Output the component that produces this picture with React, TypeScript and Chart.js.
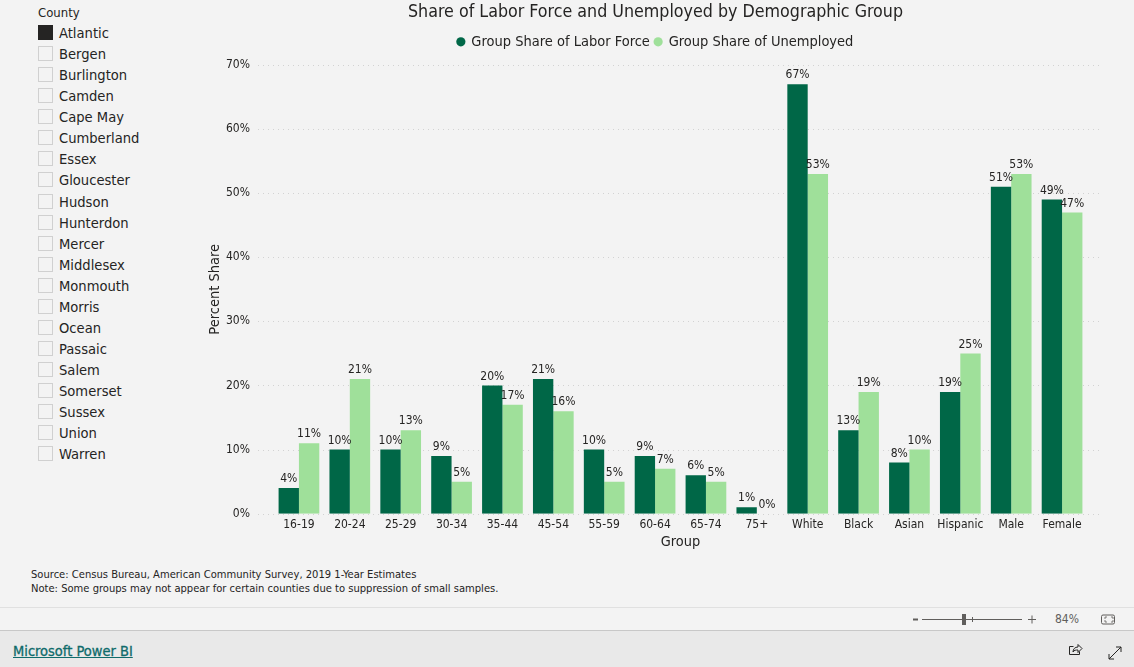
import React, { useEffect, useRef } from "react";
import { Chart, registerables } from "chart.js";

Chart.register(...registerables);

const FONT = '"DejaVu Sans Condensed", "DejaVu Sans", sans-serif';
const INK = "#252423";

const groups = ["16-19", "20-24", "25-29", "30-34", "35-44", "45-54", "55-59", "60-64", "65-74", "75+", "White", "Black", "Asian", "Hispanic", "Male", "Female"];
const laborForce = [4, 10, 10, 9, 20, 21, 10, 9, 6, 1, 67, 13, 8, 19, 51, 49];
const unemployed = [11, 21, 13, 5, 17, 16, 5, 7, 5, 0, 53, 19, 10, 25, 53, 47];
const counties = ["Atlantic", "Bergen", "Burlington", "Camden", "Cape May", "Cumberland", "Essex", "Gloucester", "Hudson", "Hunterdon", "Mercer", "Middlesex", "Monmouth", "Morris", "Ocean", "Passaic", "Salem", "Somerset", "Sussex", "Union", "Warren"];
const yTicks = [0, 10, 20, 30, 40, 50, 60, 70];

const dottedGrid = {
  id: "dottedGrid",
  beforeDatasetsDraw(chart: any) {
    const { ctx, chartArea, scales } = chart;
    ctx.save();
    ctx.strokeStyle = "#d2d2d2";
    ctx.lineWidth = 1;
    ctx.setLineDash([1, 4]);
    yTicks.forEach((t) => {
      const y = Math.round(scales.y.getPixelForValue(t)) + 0.5;
      ctx.beginPath();
      ctx.moveTo(chartArea.left - 15.5, y);
      ctx.lineTo(chartArea.right + 14.5, y);
      ctx.stroke();
    });
    ctx.restore();
  },
};

const barLabels = {
  id: "barLabels",
  afterDatasetsDraw(chart: any) {
    const { ctx } = chart;
    ctx.save();
    ctx.font = `12px ${FONT}`;
    ctx.fillStyle = INK;
    ctx.textAlign = "center";
    ctx.textBaseline = "bottom";
    chart.data.datasets.forEach((ds: any, i: number) => {
      chart.getDatasetMeta(i).data.forEach((bar: any, j: number) => {
        ctx.fillText(`${ds.data[j]}%`, bar.x, bar.y - 3);
      });
    });
    ctx.restore();
  },
};

export default function App() {
  const ref = useRef<HTMLCanvasElement>(null);

  useEffect(() => {
    document.body.style.margin = "0";
    document.body.style.background = "#f3f3f3";
    const chart = new Chart(ref.current!, {
      type: "bar",
      data: {
        labels: groups,
        datasets: [
          { label: "Group Share of Labor Force", data: laborForce, backgroundColor: "#006747" },
          { label: "Group Share of Unemployed", data: unemployed, backgroundColor: "#9fe09a" },
        ],
      },
      options: {
        animation: false,
        responsive: false,
        layout: { padding: { left: 23.5, right: 46.5, top: 0, bottom: 0 } },
        datasets: { bar: { categoryPercentage: 0.8, barPercentage: 1 } },
        plugins: {
          tooltip: { enabled: false },
          title: {
            display: true,
            text: "Share of Labor Force and Unemployed by Demographic Group",
            color: INK,
            font: { family: FONT, size: 17.7, weight: "normal" },
            padding: { top: 2, bottom: 6.3 },
          },
          subtitle: {
            display: true,
            text: " ",
            weight: 500,
            font: { family: FONT, size: 1 },
            padding: { top: 4.7, bottom: 0 },
          },
          legend: {
            position: "top",
            labels: {
              color: INK,
              font: { family: FONT, size: 14.5 },
              usePointStyle: true,
              pointStyle: "circle",
              boxWidth: 6.5,
              boxHeight: 6.5,
              padding: 5,
            },
          },
        },
        scales: {
          x: {
            grid: { display: false, drawTicks: false },
            border: { display: false },
            ticks: { color: INK, font: { family: FONT, size: 12 }, padding: 4, maxRotation: 0, autoSkip: false },
            title: { display: true, text: "Group", color: INK, font: { family: FONT, size: 14.4 }, padding: 0 },
            afterFit: (s: any) => { s.height = 37.3; },
          },
          y: {
            min: 0,
            max: 70,
            grid: { display: false, drawTicks: false },
            border: { display: false },
            ticks: { stepSize: 10, color: INK, font: { family: FONT, size: 12 }, padding: 23.5, callback: (v: any) => `${v}%` },
            title: { display: true, text: "Percent Share", color: INK, font: { family: FONT, size: 14.5 }, padding: -17 },
            afterFit: (s: any) => { s.width = 50; },
          },
        },
      } as any,
      plugins: [dottedGrid, barLabels],
    });
    return () => chart.destroy();
  }, []);

  return (
    <div style={{ position: "relative", width: 1134, height: 667, overflow: "hidden", background: "#f3f3f3", fontFamily: FONT, color: INK }}>
      <div style={{ position: "absolute", left: 38, top: 5, fontSize: 13 }}>County</div>
      {counties.map((c, i) => (
        <div key={c} style={{ position: "absolute", left: 38, top: 23.7 + i * 21.04, height: 18, display: "flex", alignItems: "center", fontSize: 14.6 }}>
          <span style={{ boxSizing: "border-box", width: 15, height: 15, marginRight: 6, border: i === 0 ? "1px solid #252423" : "1px solid #d0d0d0", background: i === 0 ? "#252423" : "transparent" }} />
          {c}
        </div>
      ))}
      <canvas ref={ref} width={934} height={551} style={{ position: "absolute", left: 200, top: 0, width: 934, height: 551 }} />
      <div style={{ position: "absolute", left: 31, top: 568, fontSize: 11.1, lineHeight: "14px" }}>
        Source: Census Bureau, American Community Survey, 2019 1-Year Estimates
        <br />
        Note: Some groups may not appear for certain counties due to suppression of small samples.
      </div>
      <div style={{ position: "absolute", left: 0, top: 607, width: 1134, height: 1, background: "#e0e0e0" }} />
      <div style={{ position: "absolute", left: 0, top: 630, width: 1134, height: 37, background: "#e9e9e9", borderTop: "1px solid #c8c8c8", boxSizing: "border-box" }} />
      <a href="#" style={{ position: "absolute", left: 13, top: 643, fontSize: 14.5, color: "#0f6b6b", WebkitTextStroke: "0.3px #0f6b6b" }}>Microsoft Power BI</a>
      <svg width="254" height="77" viewBox="0 0 254 77" style={{ position: "absolute", left: 880, top: 590 }} fill="none" stroke="#605e5c">
        <path d="M33 29.5h5" strokeWidth="2" />
        <path d="M42 29.5h100" />
        <rect x="82" y="24" width="4" height="11" fill="#605e5c" stroke="none" />
        <path d="M92.5 27v5" />
        <path d="M148 29.5h8M152 25.5v8" />
        <rect x="221.5" y="25" width="13" height="9" rx="1.5" />
        <path d="M225 29v-2h2M231 27h2v2M233 30v2h-2M227 32h-2v-2" strokeWidth="0.8" />
        <path d="M193.5 56.5h-4v8h10v-3" stroke="#252423" />
        <path d="M193 62c0-3 2-5 5-5v-2.500l4 4-4 4v-2.500c-2 0-4 0-5 2z" stroke="#252423" />
        <path d="M229 69l12-12M229 64v5h5M236 57h5v5" stroke="#252423" />
      </svg>
      <div style={{ position: "absolute", left: 1055, top: 612, fontSize: 12, color: "#605e5c" }}>84%</div>
    </div>
  );
}
